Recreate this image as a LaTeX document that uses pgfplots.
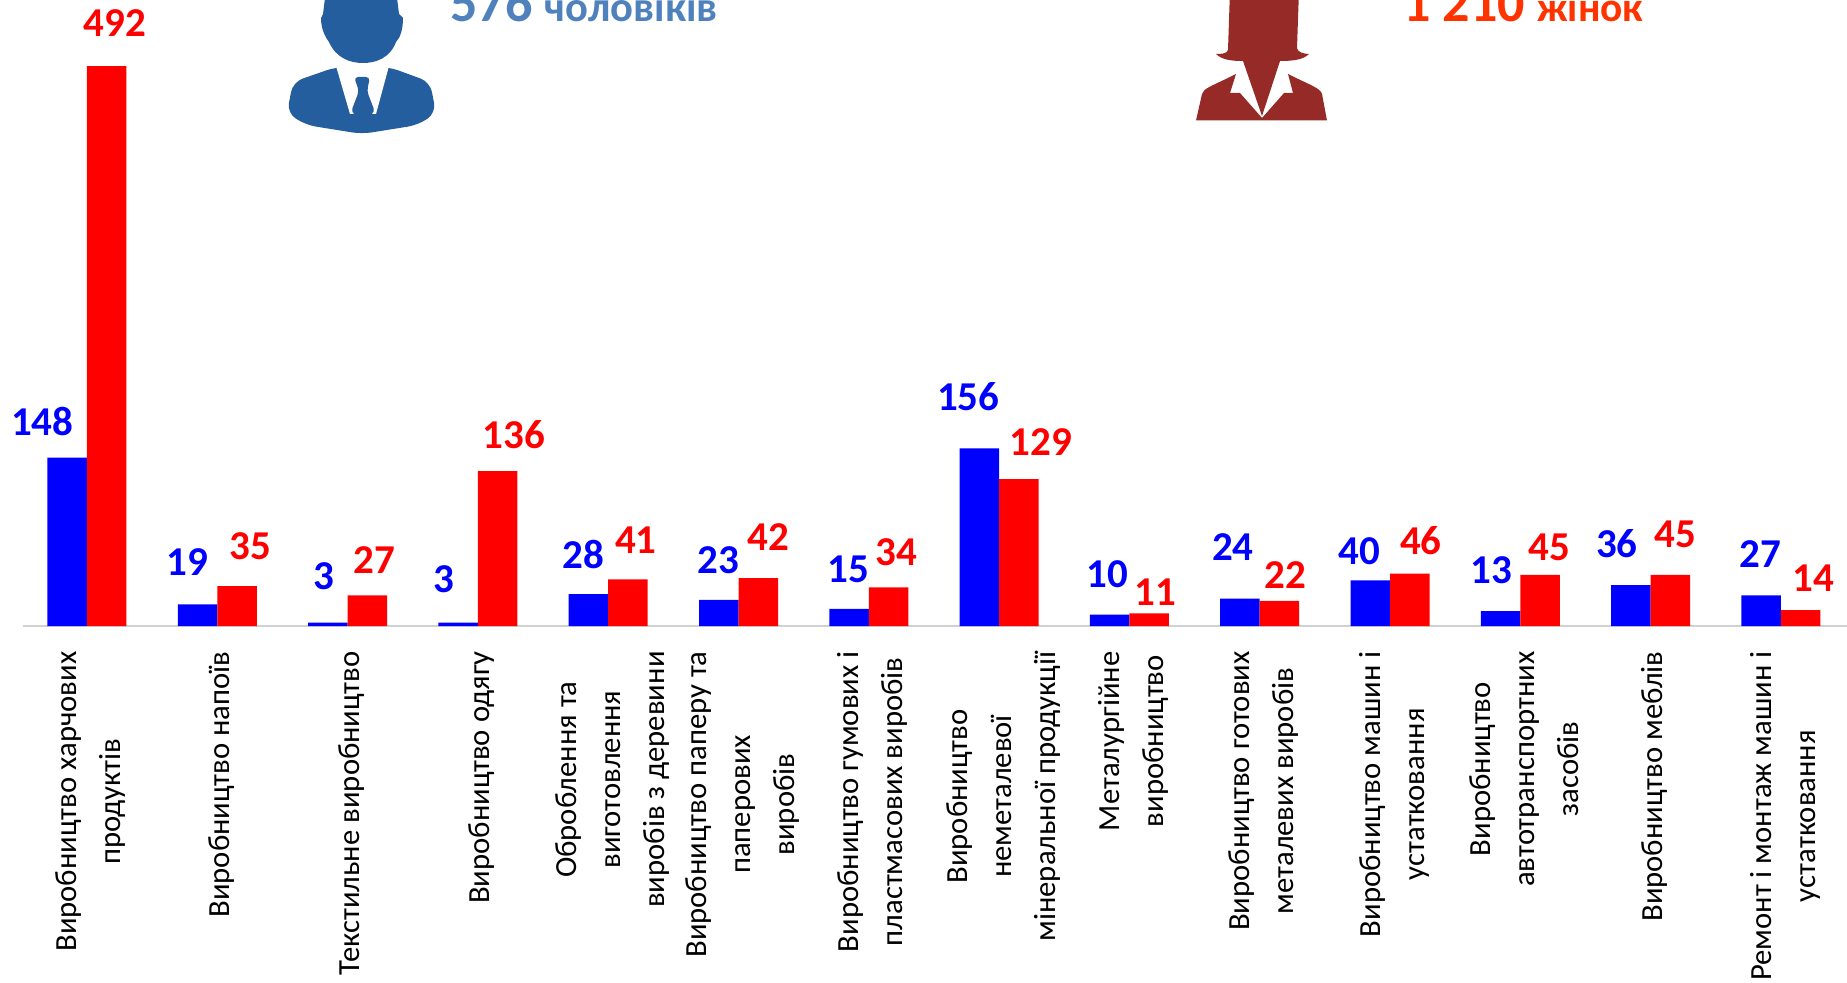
\documentclass[border=0pt]{standalone}
\usepackage{fontspec}
\setmainfont{Carlito}
\usepackage{pgfplots}
\usepackage{pgfplotstable}
\pgfplotsset{compat=1.18}
\definecolor{menblue}{HTML}{4F81BD}
\definecolor{manicon}{HTML}{255E9E}
\definecolor{womenred}{HTML}{FF3300}
\definecolor{womanicon}{HTML}{962A27}

% dx, dy: label offset from the top centre of the bar, in image pixels
\pgfplotstableread{
i v dx dy
0 148 -25 36
1 19 -10 42
2 3 -4 46
3 3 -14 43
4 28 -5 40
5 23 0 40
6 15 -1 40
7 156 -11 52
8 10 -2 40
9 24 -7 52
10 40 -11 29
11 13 -9 41
12 36 -14 41
13 27 -1 41
}\men
\pgfplotstableread{
i v dx dy
0 492 8 43
1 35 13 40
2 27 7 35
3 136 16 37
4 41 8 39
5 42 10 41
6 34 8 35
7 129 22 37
8 11 6 21.5
9 22 6 26
10 46 11 33
11 45 9 27
12 45 5 40
13 14 13 32
}\women

\pgfplotsset{
  vallabels/.style={
    nodes near coords,
    point meta=y,
    visualization depends on=\thisrow{dx} \as \dx,
    visualization depends on=\thisrow{dy} \as \dy,
    every node near coord/.append style={
      anchor=center, inner sep=0pt, font=\fontsize{20.5pt}{22pt}\selectfont\bfseries,
      text=#1, xshift={\dx*0.5pt}, yshift={\dy*0.5pt}},
  },
}

\begin{document}
\begin{tikzpicture}
\useasboundingbox (0,0) rectangle (923.5pt,491pt);
\begin{axis}[
  at={(11.5pt,178pt)}, anchor=south west,
  scale only axis,
  width=912pt, height=313pt,
  ybar=0pt, bar width=19.75pt,
  xmin=-0.491, xmax=13.507,
  ymin=0, ymax=550,
  axis y line=none,
  axis x line*=bottom,
  x axis line style={draw=black!18, line width=1pt, -},
  clip=false,
  /pgf/number format/assume math mode=true,
  xtick={0,...,13},
  major tick length=0pt,
  xticklabels={
    {Виробництво харчових\\продуктів},
    {Виробництво напоїв},
    {Текстильне виробництво},
    {Виробництво одягу},
    {Оброблення та\\виготовлення\\виробів з деревини},
    {Виробництво паперу та\\паперових\\виробів},
    {Виробництво гумових і\\пластмасових виробів},
    {Виробництво\\неметалевої\\мінеральної продукції},
    {Металургійне\\виробництво},
    {Виробництво готових\\металевих виробів},
    {Виробництво машин і\\устатковання},
    {Виробництво\\автотранспортних\\засобів},
    {Виробництво меблів},
    {Ремонт і монтаж машин і\\устатковання},
  },
  xticklabel style={rotate=90, anchor=east, align=center, inner sep=0pt,
    font=\fontsize{15.35pt}{22pt}\selectfont, xshift=-12.5pt, yshift=-2pt},
]
\addplot[fill=blue, draw=none, vallabels=blue] table[x=i, y=v] {\men};
\addplot[fill=red, draw=none, vallabels=red] table[x=i, y=v] {\women};
\end{axis}

\begin{scope}[x=0.5pt, y=-0.5pt, shift={(0,491pt)}]
  % man
  \fill[manicon] (326,-10) -- (323,14) -- (321,18) .. controls (321,30) and (326,38) .. (329,42)
    .. controls (336,58) and (350,63) .. (363,63) .. controls (376,63) and (390,58) .. (396,42)
    .. controls (400,38) and (403,30) .. (403,18) -- (399,14) -- (396,-10) -- cycle;
  \fill[manicon, rounded corners=5pt] (336,67) -- (293,82) -- (287,113) -- (306,125) -- (362,134)
    -- (418,125) -- (436,113) -- (430,82) -- (389,67) -- cycle;
  \fill[white] (336,66) -- (389,66) -- (376,114) -- (350,114) -- cycle;
  \fill[manicon, rounded corners=2pt] (354,77) -- (370,77) -- (367,91) -- (375,112) -- (363,120)
    -- (351,112) -- (359,91) -- cycle;
  % woman
  \fill[womanicon] (1230,-10) -- (1228,50) .. controls (1227,54) and (1220,54) .. (1216,54)
    .. controls (1222,60) and (1232,61) .. (1243,61) -- (1262,116) -- (1280,61)
    .. controls (1292,61) and (1303,60) .. (1309,54) .. controls (1304,54) and (1297,52) .. (1297,48)
    -- (1299,-10) -- cycle;
  \fill[womanicon] (1196,120.5) -- (1202,94) .. controls (1204,88) and (1210,87) .. (1236,74)
    -- (1230,93) -- (1240,93) -- (1262,118) -- (1284,93) -- (1293,93) -- (1288,74)
    .. controls (1312,86) and (1320,88) .. (1322,94) -- (1327,120.5) -- cycle;
  % captions, cut by the top edge like in the source
  \node[anchor=base west, inner sep=0pt, text=menblue, font=\bfseries] at (450,22)
    {\fontsize{27pt}{27pt}\selectfont 576 \fontsize{21.3pt}{21pt}\selectfont чоловіків};
  \node[anchor=base west, inner sep=0pt, text=womenred, font=\bfseries] at (1403,22)
    {\fontsize{27pt}{27pt}\selectfont 1 210 \fontsize{20.7pt}{21pt}\selectfont жінок};
\end{scope}
\end{tikzpicture}
\end{document}
